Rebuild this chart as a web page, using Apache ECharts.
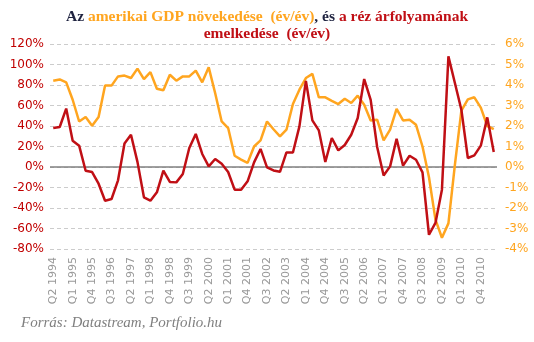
<!DOCTYPE html>
<html><head><meta charset="utf-8">
<script src="https://cdn.jsdelivr.net/npm/echarts@6/dist/echarts.min.js"></script>
<style>html,body{margin:0;padding:0;background:#fff}#c{width:534px;height:342px}</style>
</head><body><div id="c"></div>
<script>
// Categories: quarters from Q2 1994
var startYear = 1994, startQ = 2;
var categories = [];
var copperYoY = [38,39,57,25.6,20.8,-3.6,-4.9,-16.3,-32.9,-31.2,-13,23,31.5,5,-29.6,-32.9,-24.7,-3.6,-14.6,-15,-6.8,18.5,32.2,12.7,0.6,7.8,3.2,-4.9,-22.1,-22.1,-14,4.5,17.6,-0.4,-3.4,-4.7,14.2,14.2,39.6,84,45.5,35.7,4.9,28.3,16.2,21.5,31.5,47.8,85.8,65.5,19.5,-8.2,0.6,27.6,1.3,11,7.1,-5.3,-66.1,-54.6,-22.1,107.9,82,55.9,8.8,11.3,20.8,48.4,14.6];
var gdpYoY = [4.21,4.27,4.13,3.28,2.22,2.44,2.01,2.44,3.97,3.97,4.42,4.46,4.34,4.80,4.29,4.63,3.82,3.74,4.50,4.21,4.42,4.42,4.70,4.13,4.86,3.6,2.22,1.90,0.55,0.36,0.20,1.00,1.30,2.22,1.84,1.49,1.82,3.07,3.77,4.34,4.54,3.40,3.40,3.23,3.07,3.33,3.12,3.48,3.04,2.27,2.31,1.30,1.82,2.84,2.27,2.31,2.06,1.0,-0.5,-2.57,-3.45,-2.75,0.1,2.75,3.3,3.4,2.9,2.0,1.85];
for (var i = 0; i < copperYoY.length; i++) {
  var q = (startQ - 1 + i) % 4 + 1;
  var y = startYear + Math.floor((startQ - 1 + i) / 4);
  categories.push('Q' + q + ' ' + y);
}
var leftMin = -80, leftMax = 120, leftStep = 20;
var rightMin = -4, rightMax = 6, rightStep = 1;

var RED = '#C00F15', ORANGE = '#FFA51F';
var TF = 'Liberation Serif';
var chart = echarts.init(document.getElementById('c'), null, {renderer: 'canvas'});
chart.setOption({
  animation: false,
  backgroundColor: '#fff',
  title: {
    left: 'center', top: 3,
    text: '{d|Az }{o|amerikai GDP növekedése  (év/év)}{d|, és }{r|a réz árfolyamának}\n{r|emelkedése  (év/év)}',
    textStyle: {
      lineHeight: 17,
      rich: {
        d: {color: '#1F2340', fontFamily: TF, fontWeight: 'bold', fontSize: 15.5, lineHeight: 17},
        o: {color: ORANGE, fontFamily: TF, fontWeight: 'bold', fontSize: 15.5, lineHeight: 17},
        r: {color: RED, fontFamily: TF, fontWeight: 'bold', fontSize: 15.5, lineHeight: 17}
      }
    }
  },
  graphic: [{
    type: 'text', left: 21, top: 316,
    style: {text: 'Forrás: Datastream, Portfolio.hu', fill: '#808080', font: 'italic 15px "Liberation Serif"'}
  }],
  grid: {left: 50, right: 37, top: 44, bottom: 93, containLabel: false},
  xAxis: {
    type: 'category', data: categories, boundaryGap: true,
    axisLine: {show: false}, axisTick: {show: false},
    axisLabel: {rotate: 90, interval: 2, color: '#999', fontSize: 11, fontFamily: 'DejaVu Sans', margin: 8}
  },
  yAxis: [{
    type: 'value', min: leftMin, max: leftMax, interval: leftStep,
    axisLine: {show: false}, axisTick: {show: false},
    axisLabel: {formatter: '{value}%', color: '#C00000', fontSize: 12, fontFamily: 'DejaVu Sans', margin: 6},
    splitLine: {lineStyle: {color: '#ccc', type: [4, 3], width: 1}}
  }, {
    type: 'value', min: rightMin, max: rightMax, interval: rightStep,
    axisLine: {show: false}, axisTick: {show: false},
    axisLabel: {formatter: '{value}%', color: ORANGE, fontSize: 12, fontFamily: 'DejaVu Sans', margin: 8},
    splitLine: {show: false}
  }],
  series: [{
    type: 'line', yAxisIndex: 1, data: gdpYoY, symbol: 'none',
    lineStyle: {color: ORANGE, width: 2.5}, z: 2
  }, {
    type: 'line', yAxisIndex: 0, data: copperYoY, symbol: 'none',
    lineStyle: {color: RED, width: 2.5}, z: 3,
    markLine: {silent: true, symbol: 'none', label: {show: false},
      lineStyle: {color: '#808080', type: 'solid', width: 1.5},
      data: [{yAxis: 0}], z: 1}
  }]
});
</script></body></html>
